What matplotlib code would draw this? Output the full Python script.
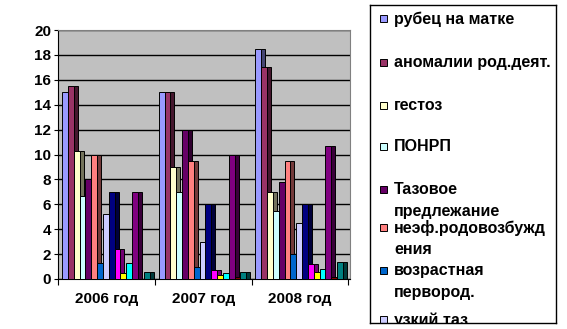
import numpy as np
import matplotlib.pyplot as plt
from matplotlib import rcParams
from matplotlib.patches import Rectangle
from matplotlib.colors import to_rgb

rcParams['font.family'] = ['Liberation Sans', 'DejaVu Sans']
rcParams['font.weight'] = 'bold'
rcParams['font.size'] = 11

years = ['2006 год', '2007 год', '2008 год']
names = ['рубец на матке', 'аномалии род.деят.', 'гестоз', 'ПОНРП',
         'Тазовое\nпредлежание', 'неэф.родовозбужд\nения',
         'возрастная\nпервород.', 'узкий таз']

# one list per series, values for 2006 / 2007 / 2008
rubets = [15.0, 15.0, 18.5]
anomalii = [15.5, 15.0, 17.0]
gestoz = [10.3, 9.0, 7.0]
ponrp = [6.7, 7.0, 5.5]
tazovoe = [8.0, 12.0, 7.8]
nezf = [10.0, 9.5, 9.5]
vozrast = [1.3, 1.0, 2.0]
uzkiy = [5.2, 3.0, 4.5]
series9 = [7.0, 6.0, 6.0]
series10 = [2.4, 0.7, 1.2]
series11 = [0.5, 0.3, 0.55]
series12 = [1.3, 0.5, 0.8]
series13 = [7.0, 10.0, 10.7]
series14 = [0.0, 0.2, 0.15]
series15 = [0.6, 0.6, 1.4]

values = [rubets, anomalii, gestoz, ponrp, tazovoe, nezf, vozrast, uzkiy,
          series9, series10, series11, series12, series13, series14, series15]
colors = ['#9999FF', '#993366', '#FFFFCC', '#CCFFFF', '#660066', '#FF8080',
          '#0066CC', '#CCCCFF', '#000080', '#FF00FF', '#FFFF00', '#00FFFF',
          '#800080', '#800000', '#008080']

W, H = 567, 329
fig = plt.figure(figsize=(W / 100, H / 100), dpi=100)

# plot area in pixels
px_l, px_r, px_t, px_b = 58.3, 350, 30, 279
ax = fig.add_axes([px_l / W, 1 - px_b / H, (px_r - px_l) / W, (px_b - px_t) / H])
ax.set_facecolor('#C0C0C0')
unit = 96.7  # pixels per category
ax.set_xlim(0, (px_r - px_l) / unit)
ax.set_ylim(0, 20)

step = 5.84 / unit
depth = 4.0 / unit
start = 3.7 / unit
x = np.arange(len(years))
for i, (vals, c) in enumerate(zip(values, colors)):
    dark = tuple(v * 0.45 for v in to_rgb(c))
    left = x + start + i * step
    # side face, drawn behind the front faces
    ax.bar(left + step, vals, width=depth, align='edge', color=dark,
           edgecolor='black', linewidth=0.7, zorder=2)
    ax.bar(left, vals, width=step, align='edge', color=c,
           edgecolor='black', linewidth=0.7, zorder=3)

ax.set_yticks(np.arange(0, 21, 2))
ax.yaxis.grid(True, color='black', linewidth=1)
ax.set_axisbelow(True)
ax.set_xticks([0, 1, 2, 3])
ax.set_xticklabels([])
ax.set_xticks(x + 0.5, years, minor=True)
ax.tick_params(axis='x', which='minor', length=0, pad=9)
ax.tick_params(axis='x', which='major', length=4, direction='out')
ax.tick_params(axis='y', length=3, direction='out', pad=2)
for s in ['left', 'bottom']:
    ax.spines[s].set_color('black')
for s in ['top', 'right']:
    ax.spines[s].set_color('#808080')

# legend box, clipped at the bottom like the original
lg_l, lg_r, lg_t, lg_b = 370, 556, 5, 322.7
lax = fig.add_axes([lg_l / W, 1 - lg_b / H, (lg_r - lg_l) / W, (lg_b - lg_t) / H])
lax.set_xlim(lg_l, lg_r)
lax.set_ylim(lg_b, lg_t)
lax.set_xticks([])
lax.set_yticks([])
for s in lax.spines.values():
    s.set_color('black')
    s.set_linewidth(1)
ypos = [19, 63, 106, 147, 190, 228, 271, 320]
for name, c, y in zip(names, colors, ypos):
    lax.add_patch(Rectangle((380.5, y - 3.5), 6.5, 6.5, facecolor=c,
                            edgecolor='black', linewidth=0.7, clip_on=True))
    for k, line in enumerate(name.split('\n')):
        lax.text(394, y + k * 21.5, line, va='center', ha='left',
                 fontsize=11.5, fontweight='bold', clip_on=True)

fig.savefig('out.png', dpi=100)
